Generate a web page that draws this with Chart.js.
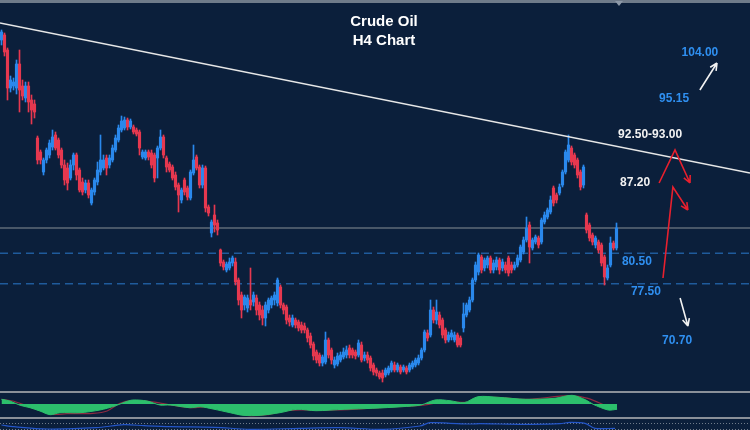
<!DOCTYPE html>
<html>
<head>
<meta charset="utf-8">
<script src="https://cdn.jsdelivr.net/npm/chart.js@4.4.1/dist/chart.umd.min.js"></script>
<style>
body { margin: 0; background: #0b1f3b; }
#wrap { position: relative; width: 750px; height: 430px; overflow: hidden; background: #0b1f3b; }
.sep { height: 2px; background: #8a9099; }
.top { height: 3px; background: #6f7b8a; }
canvas { display: block; }
#marker { position: absolute; left: 615px; top: 1px; width: 0; height: 0;
  border-left: 4px solid transparent; border-right: 4px solid transparent; border-top: 5px solid #8d99a8; }
</style>
</head>
<body>
<div id="wrap">
  <div class="top"></div>
  <canvas id="main" width="750" height="388"></canvas>
  <div class="sep"></div>
  <canvas id="macd" width="750" height="24"></canvas>
  <div class="sep"></div>
  <canvas id="rsi" width="750" height="11"></canvas>
  <div id="marker"></div>
</div>
<script>
// H4 candles, oldest first
const opens = [
  101.8,102.3,100.8,97.0,97.2,97.0,99.4,97.2,96.0,97.2,
  95.8,95.4,92.0,90.6,88.6,89.8,90.3,91.1,92.3,91.8,
  90.8,89.3,89.0,88.0,89.3,90.3,88.8,87.6,86.8,87.5,
  85.5,86.6,87.6,88.6,89.0,90.0,89.3,89.8,90.8,91.8,
  92.8,93.0,93.8,93.1,93.1,92.8,92.6,90.1,90.0,90.6,
  90.5,90.3,90.0,91.0,92.1,90.0,89.4,89.1,88.3,87.3,
  85.8,87.8,87.0,86.0,88.5,90.1,89.1,87.3,89.0,85.1,
  82.5,84.3,83.5,80.8,79.6,78.8,79.0,79.5,79.6,77.8,
  76.3,75.3,75.0,75.8,75.6,76.0,75.3,74.8,74.0,74.8,
  75.3,75.8,75.5,77.1,75.3,75.1,74.0,73.3,73.8,73.6,
  73.3,73.2,72.8,72.2,71.4,70.6,70.3,69.5,69.6,71.8,
  70.8,69.3,69.4,69.8,70.1,70.3,71.0,70.8,70.6,70.3,
  71.3,70.0,70.3,70.0,69.3,68.8,68.5,68.5,68.3,68.5,
  68.8,69.3,68.8,69.1,68.8,69.0,68.8,69.1,69.3,69.5,
  70.0,70.8,72.5,72.3,74.8,73.8,74.3,73.8,72.8,71.8,
  72.1,71.8,72.3,72.0,73.0,74.3,74.8,75.8,77.8,78.6,
  80.1,79.0,79.3,80.0,78.8,79.1,79.8,79.0,79.3,80.0,
  79.3,79.0,79.3,79.8,80.6,81.8,83.3,81.0,81.6,82.0,
  81.6,83.6,84.1,84.6,87.0,86.3,86.5,87.3,88.6,89.8,
  91.0,90.3,89.8,88.6,87.3,84.3,83.3,82.3,81.3,81.6,
  81.3,80.1,78.0,79.3,81.5,81.0
];
const highs = [
  102.8,102.5,101.0,98.2,98.0,99.8,100.8,97.8,97.6,97.6,
  96.3,95.8,92.2,90.8,90.0,91.0,91.8,92.8,92.6,92.0,
  91.0,89.8,89.5,89.8,90.5,90.5,89.0,88.0,87.8,87.8,
  87.0,88.0,89.6,92.3,90.3,90.3,90.3,91.3,92.3,93.3,
  94.2,94.1,94.0,93.9,93.3,93.0,92.8,90.8,90.8,90.8,
  90.8,90.5,91.2,92.8,92.3,90.2,89.6,89.3,88.6,87.5,
  87.0,88.0,87.2,88.8,91.3,90.3,89.3,89.3,89.2,85.3,
  83.8,85.3,83.8,80.9,79.8,79.6,80.0,80.2,80.0,78.0,
  76.6,76.3,76.3,79.0,76.6,76.3,75.6,75.2,75.6,76.0,
  76.2,76.6,78.0,77.3,75.5,75.3,74.3,74.3,74.0,73.8,
  73.6,73.5,73.0,72.5,71.6,70.8,70.5,70.3,72.6,72.0,
  71.0,70.1,70.5,70.6,71.0,71.2,71.3,71.0,70.8,71.8,
  71.6,70.6,70.6,70.2,69.5,69.0,68.7,68.8,69.0,69.2,
  69.7,69.6,69.5,69.3,69.3,69.2,69.5,69.7,70.0,70.3,
  71.0,72.8,72.8,75.8,75.1,75.8,74.6,74.0,73.0,72.6,
  72.8,72.6,72.5,72.2,75.5,75.5,76.1,78.0,79.6,80.5,
  80.3,80.0,80.2,80.2,79.8,80.1,80.0,79.9,79.6,80.2,
  79.6,79.6,80.3,81.3,82.1,84.1,83.6,82.0,82.3,82.2,
  84.0,84.6,85.0,86.2,87.2,86.5,87.4,88.8,90.8,92.3,
  91.2,90.5,90.0,88.8,89.3,84.5,83.5,82.5,82.2,81.8,
  81.5,80.3,79.3,82.1,81.7,83.5
];
const lows = [
  101.3,100.2,95.8,96.6,96.8,96.4,94.6,95.8,95.6,94.6,
  93.4,94.0,89.4,89.4,88.3,89.5,90.0,90.8,90.8,90.0,
  89.0,87.3,86.8,87.8,88.8,87.8,86.6,86.3,86.5,86.0,
  85.3,86.3,87.3,88.3,88.8,88.3,89.0,89.6,90.6,91.6,
  92.6,92.8,92.8,92.9,92.4,92.2,90.3,89.9,89.8,89.8,
  89.0,87.6,88.0,90.8,90.0,88.6,88.6,87.8,86.8,84.6,
  85.5,86.3,85.8,85.8,88.3,88.8,87.0,87.0,84.6,84.2,
  82.1,82.6,82.3,79.2,78.8,78.6,78.8,79.2,77.3,75.3,
  74.0,74.8,74.6,74.8,75.2,74.3,73.8,73.3,73.2,74.5,
  75.0,75.3,75.2,75.0,74.4,73.4,73.2,73.1,73.0,72.7,
  72.5,72.5,71.6,71.0,69.8,69.5,69.2,69.2,69.4,70.0,
  69.4,69.0,69.2,69.6,69.9,70.0,70.0,70.0,69.9,70.1,
  69.6,69.7,69.5,68.7,68.3,68.2,67.9,67.6,68.1,68.3,
  68.6,68.6,68.6,68.4,68.6,68.4,68.6,68.9,69.1,69.3,
  69.8,70.6,71.7,72.1,73.5,73.4,73.0,72.0,71.5,71.6,
  71.8,71.6,71.1,71.1,72.6,74.1,74.6,75.6,77.6,78.3,
  78.5,78.7,79.0,78.5,78.5,78.8,78.4,78.7,78.5,78.2,
  78.5,78.8,79.1,79.6,80.4,81.6,79.5,80.8,81.4,81.0,
  81.4,83.4,83.9,84.4,85.2,85.5,86.3,87.1,88.4,89.6,
  89.3,89.0,88.0,86.8,87.0,82.5,81.7,81.3,81.0,80.5,
  79.2,77.3,77.8,79.1,80.8,80.8
];
const closes = [
  102.6,100.6,97.0,97.8,97.6,99.4,96.8,96.2,97.2,95.6,
  94.8,94.6,89.8,89.8,89.8,90.8,91.5,92.1,91.0,90.3,
  89.3,87.8,87.5,89.3,90.3,88.3,86.8,86.6,87.5,86.3,
  86.8,87.8,88.8,89.8,89.8,89.0,90.0,91.0,92.0,93.0,
  93.7,93.8,93.1,93.7,92.6,92.4,91.0,90.6,90.6,90.1,
  89.3,88.0,91.0,92.1,90.3,89.1,88.8,88.0,87.1,86.3,
  86.8,86.6,86.1,88.6,89.8,89.0,87.3,89.0,85.0,84.5,
  83.6,83.3,82.8,79.5,79.1,79.4,79.6,80.0,77.6,75.8,
  74.8,76.1,76.0,75.3,76.3,74.8,74.3,74.0,75.3,75.8,
  76.0,76.3,77.8,75.3,74.8,73.8,73.6,74.0,73.3,73.0,
  72.8,72.8,72.0,71.3,70.2,69.8,69.5,70.1,71.8,70.3,
  69.8,69.8,70.2,70.3,70.6,70.8,70.3,70.3,70.2,71.5,
  69.8,70.3,69.8,69.0,68.6,68.5,68.1,68.0,68.8,69.0,
  69.5,68.8,69.3,68.6,69.1,68.6,69.3,69.5,69.8,70.0,
  70.8,72.6,72.0,74.8,73.8,74.6,73.3,72.3,71.8,72.3,
  72.5,72.3,71.3,71.3,74.4,75.3,75.8,77.8,79.3,80.3,
  78.8,79.8,80.0,78.8,79.5,79.8,78.8,79.6,78.8,78.5,
  78.8,79.3,80.0,81.1,81.8,83.0,81.1,81.8,82.1,81.3,
  83.8,84.3,84.8,85.8,85.5,85.8,87.1,88.6,90.6,91.3,
  89.6,89.3,88.3,87.1,89.1,82.8,82.0,81.6,82.0,80.8,
  79.5,78.1,79.0,81.5,81.0,83.0
];
const slotCount = 250;

// levels drawn on the price pane
const levelSolid = 83.0;
const levelsDashed = [80.47, 77.43];
const trendStart = 103.5;
const trendEnd = 88.5;

// text on the chart: slot position, price position
const titleLines = ['Crude Oil', 'H4 Chart'];
const titleSlot = 127.5;
const titlePrices = [103.6, 101.7];
const noteTexts = ['104.00', '95.15', '92.50-93.00', '87.20', '80.50', '77.50', '70.70'];
const noteSlots = [232.8, 224.2, 216.2, 211.2, 211.8, 214.8, 225.2];
const notePrices = [100.5, 95.9, 92.3, 87.5, 79.6, 76.6, 71.7];
const noteColors = ['#2f8ff0', '#2f8ff0', '#f2f2f2', '#f2f2f2', '#2f8ff0', '#2f8ff0', '#2f8ff0'];

// scenario arrows
const arrowSlots = [[232.8, 238.5], [219.2, 224.5, 229.5], [220.5, 223.8, 228.8], [226.2, 228.8]];
const arrowPrices = [[96.8, 99.5], [87.5, 90.8, 87.5], [78.0, 87.1, 84.8], [76.0, 73.2]];
const arrowColors = ['#f2f2f2', '#e8202e', '#e8202e', '#f2f2f2'];

// oscillator pane (histogram + signal)
const histSlots = [0,2.8,6.2,9.5,12.8,16.2,19.5,26.2,32.8,37.8,41.2,43.8,48.5,52.8,56.2,62.8,66.2,70.5,76.2,80.5,
  86.2,92.8,98.5,104.8,114.2,123.8,133.5,139.8,144.5,149.5,154.2,158.8,165.5,174.8,184.5,190.2,194.8,197.2,202.2,205.2];
const histValues = [0.47,0.3,-0.13,-0.37,-0.7,-1.07,-0.87,-0.87,-0.6,-0.2,0.2,0.4,0.3,-0.1,-0.1,-0.37,-0.27,-0.5,-0.87,-1.13,
  -1.13,-0.87,-0.53,-0.67,-0.53,-0.43,-0.27,-0.1,0.4,0.33,0.13,0.73,0.67,0.47,0.57,0.87,0.4,-0.03,-0.6,-0.53];
const signalSlots = [0,3.8,8.5,12.8,17.2,21.8,30.5,35.2,39.5,43.8,49.5,55.2,62.8,70.5,77.2,81.8,88.5,93.8,99.5,111.2,
  127.2,139.8,147.8,155.8,163.8,174.8,189.2,195.5,202.2,204.5];
const signalValues = [0.47,0.3,-0.2,-0.63,-1.03,-0.97,-0.93,-0.7,0.07,0.33,0.23,-0.03,-0.37,-0.27,-0.8,-1.13,-1.07,-0.7,-0.6,-0.6,
  -0.33,-0.13,0.23,0.17,0.67,0.47,0.83,0.57,-0.27,-0.53];

// bottom pane
const rsiSlots = [0,4.2,15.5,31.5,40.8,47.5,56.2,71.2,82.8,99.5,112.8,127.2,139.5,142.8,149.5,156.2,159.5,166.2,176.2,186.2,189.5,194.5,197.8,204.5];
const rsiValues = [58.7,47.3,32,40.7,60.7,54,47.3,43.3,30,36.7,40.7,30,52,74,70,65.3,67.3,65.3,63.3,67.3,76.7,70,36.7,36.7];
const rsiLevels = [70, 30];

const BLUE = '#2a88ec';
const RED = '#e6384f';

const slotLabels = Array.from({ length: slotCount }, (_, i) => String(i));
const candleColors = opens.map((o, i) => closes[i] >= o ? BLUE : RED);

function drawArrow(ctx, pts, color) {
    ctx.strokeStyle = color;
    ctx.lineWidth = 1.6;
    ctx.beginPath();
    ctx.moveTo(pts[0][0], pts[0][1]);
    for (let i = 1; i < pts.length; i++) ctx.lineTo(pts[i][0], pts[i][1]);
    const [tx, ty] = pts[pts.length - 1];
    const [px, py] = pts[pts.length - 2];
    const ang = Math.atan2(ty - py, tx - px);
    ctx.moveTo(tx, ty);
    ctx.lineTo(tx - 8 * Math.cos(ang - 0.45), ty - 8 * Math.sin(ang - 0.45));
    ctx.moveTo(tx, ty);
    ctx.lineTo(tx - 8 * Math.cos(ang + 0.45), ty - 8 * Math.sin(ang + 0.45));
    ctx.stroke();
}

const overlay = {
    id: 'overlay',
    beforeDatasetsDraw(chart) {
        const { ctx, chartArea: a, scales: { y } } = chart;
        ctx.save();
        ctx.strokeStyle = '#5f6b79';
        ctx.lineWidth = 1.5;
        ctx.beginPath();
        ctx.moveTo(a.left, y.getPixelForValue(levelSolid));
        ctx.lineTo(a.right, y.getPixelForValue(levelSolid));
        ctx.stroke();

        ctx.strokeStyle = '#1f5b9c';
        ctx.setLineDash([8, 5]);
        levelsDashed.forEach(level => {
            ctx.beginPath();
            ctx.moveTo(a.left, y.getPixelForValue(level));
            ctx.lineTo(a.right, y.getPixelForValue(level));
            ctx.stroke();
        });
        ctx.restore();
    },
    afterDatasetsDraw(chart) {
        const { ctx, chartArea: a, scales: { x, y } } = chart;
        ctx.save();
        // trend line
        ctx.strokeStyle = '#e6e6e6';
        ctx.lineWidth = 1.5;
        ctx.beginPath();
        ctx.moveTo(a.left, y.getPixelForValue(trendStart));
        ctx.lineTo(a.right, y.getPixelForValue(trendEnd));
        ctx.stroke();

        ctx.textAlign = 'center';
        ctx.textBaseline = 'middle';
        ctx.fillStyle = '#ffffff';
        ctx.font = 'bold 15px "Liberation Sans", Arial, sans-serif';
        titleLines.forEach((t, i) => {
            ctx.fillText(t, x.getPixelForValue(titleSlot), y.getPixelForValue(titlePrices[i]));
        });

        ctx.font = 'bold 12px "Liberation Sans", Arial, sans-serif';
        noteTexts.forEach((t, i) => {
            ctx.fillStyle = noteColors[i];
            ctx.fillText(t, x.getPixelForValue(noteSlots[i]), y.getPixelForValue(notePrices[i]));
        });

        arrowSlots.forEach((slots, i) => {
            const pts = slots.map((s, j) => [x.getPixelForValue(s), y.getPixelForValue(arrowPrices[i][j])]);
            drawArrow(ctx, pts, arrowColors[i]);
        });
        ctx.restore();
    }
};

const baseOptions = {
    responsive: false,
    animation: false,
    events: [],
    layout: { padding: 0 },
    plugins: { legend: { display: false }, tooltip: { enabled: false } }
};

new Chart(document.getElementById('main'), {
    type: 'bar',
    data: {
        labels: slotLabels,
        datasets: [{
            data: lows.map((l, i) => [l, highs[i]]),
            backgroundColor: candleColors,
            barThickness: 1,
            grouped: false,
            order: 2
        }, {
            data: opens.map((o, i) => [o, closes[i]]),
            backgroundColor: candleColors,
            barThickness: 2.5,
            minBarLength: 1,
            grouped: false,
            order: 1
        }]
    },
    options: {
        ...baseOptions,
        scales: {
            x: { display: false },
            y: { display: false, min: 66.7, max: 105.5 }
        }
    },
    plugins: [overlay]
});

new Chart(document.getElementById('macd'), {
    type: 'line',
    data: {
        datasets: [{
            data: histSlots.map((s, i) => ({ x: s, y: histValues[i] })),
            borderColor: '#2cbf6c',
            backgroundColor: '#2cbf6c',
            borderWidth: 1,
            fill: 'origin',
            pointRadius: 0,
            tension: 0.3
        }, {
            data: signalSlots.map((s, i) => ({ x: s, y: signalValues[i] })),
            borderColor: '#8e2b42',
            borderWidth: 1.2,
            fill: false,
            pointRadius: 0,
            tension: 0.3
        }]
    },
    options: {
        ...baseOptions,
        scales: {
            x: { type: 'linear', display: false, min: -0.5, max: slotCount - 0.5 },
            y: { display: false, min: -1.3, max: 1.1 }
        }
    }
});

const rsiLines = {
    id: 'rsiLines',
    beforeDatasetsDraw(chart) {
        const { ctx, chartArea: a, scales: { y } } = chart;
        ctx.save();
        ctx.strokeStyle = '#6f7b8a';
        ctx.lineWidth = 1;
        ctx.setLineDash([1, 2]);
        rsiLevels.forEach(level => {
            const py = Math.round(y.getPixelForValue(level)) + 0.5;
            ctx.beginPath();
            ctx.moveTo(a.left, py);
            ctx.lineTo(a.right, py);
            ctx.stroke();
        });
        ctx.restore();
    }
};

new Chart(document.getElementById('rsi'), {
    type: 'line',
    data: {
        datasets: [{
            data: rsiSlots.map((s, i) => ({ x: s, y: rsiValues[i] })),
            borderColor: '#2456c8',
            borderWidth: 1.2,
            fill: false,
            pointRadius: 0,
            tension: 0.3
        }]
    },
    options: {
        ...baseOptions,
        scales: {
            x: { type: 'linear', display: false, min: -0.5, max: slotCount - 0.5 },
            y: { display: false, min: 25.3, max: 98.7 }
        }
    },
    plugins: [rsiLines]
});
</script>
</body>
</html>
